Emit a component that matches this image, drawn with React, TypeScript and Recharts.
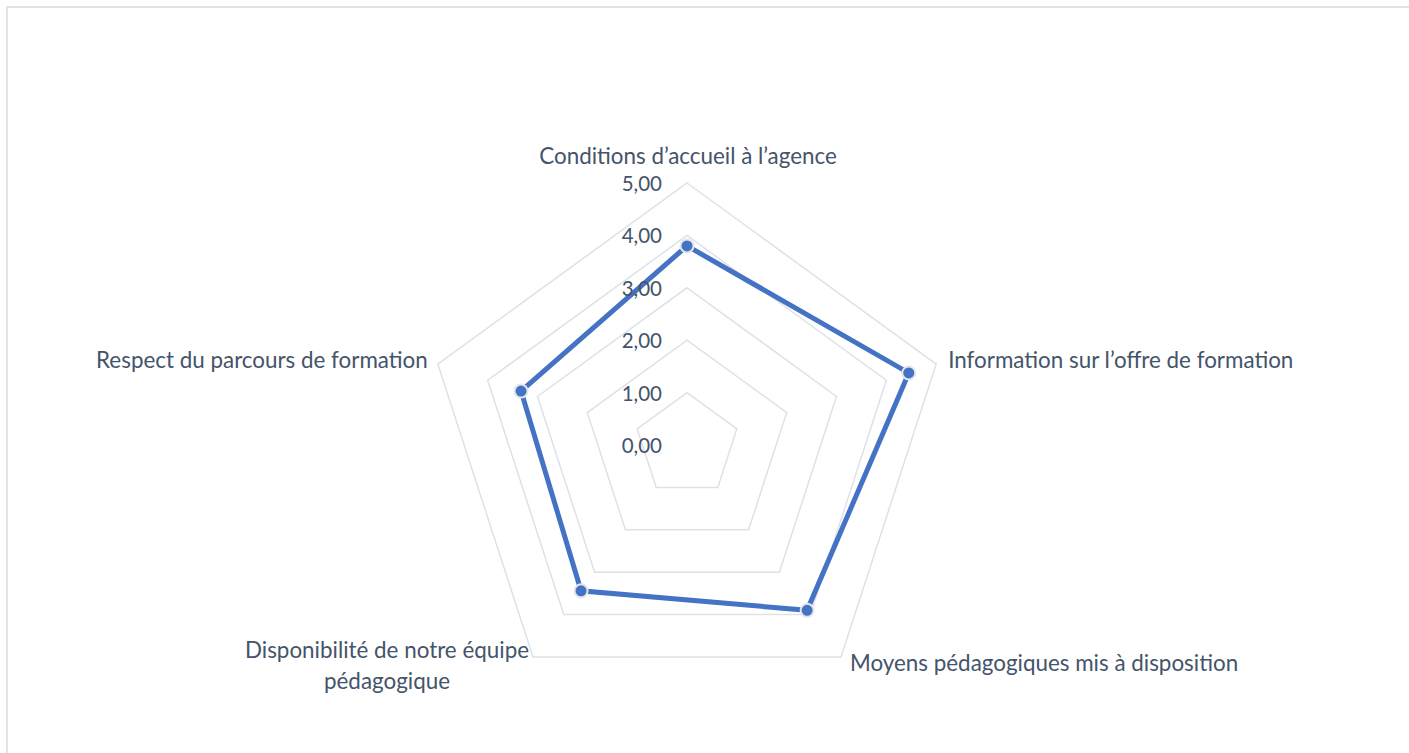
import { RadarChart, Radar, PolarGrid, PolarAngleAxis, PolarRadiusAxis } from 'recharts';

const criteres = [
  'Conditions d’accueil à l’agence',
  'Information sur l’offre de formation',
  'Moyens pédagogiques mis à disposition',
  'Disponibilité de notre équipe pédagogique',
  'Respect du parcours de formation',
];
const notes = [3.8, 4.45, 3.9, 3.44, 3.33];
const graduations = [0, 1, 2, 3, 4, 5];

const data = criteres.map((name, i) => ({ name, note: notes[i] }));

const CX = 687;
const CY = 445;
const R = 262;
const TEXT = '#44546a';
const FONT = 'Lato, "Open Sans", sans-serif';

const fmt = (v: number) => v.toFixed(2).replace('.', ',');

const AngleTick = ({ payload, index }: any) => {
  const a = (-payload.coordinate * Math.PI) / 180;
  const vx = CX + R * Math.cos(a);
  const vy = CY + R * Math.sin(a);
  const label: string = payload.value;
  const common = { fill: TEXT, fontSize: 22.4, fontFamily: FONT, dominantBaseline: 'central' as const };

  if (index === 0) {
    return <text x={vx + 1} y={vy - 28} textAnchor="middle" {...common}>{label}</text>;
  }
  if (index === 1) {
    return <text x={vx + 12} y={vy - 5} textAnchor="start" {...common}>{label}</text>;
  }
  if (index === 2) {
    return <text x={vx + 9} y={vy + 6} textAnchor="start" {...common}>{label}</text>;
  }
  if (index === 3) {
    const words = label.split(' ');
    const l1 = words.slice(0, -1).join(' ');
    const l2 = words[words.length - 1];
    return (
      <text x={vx - 146} y={vy - 8} textAnchor="middle" {...common}>
        <tspan x={vx - 146} dy={0}>{l1}</tspan>
        <tspan x={vx - 146} dy={31}>{l2}</tspan>
      </text>
    );
  }
  return <text x={vx - 10} y={vy - 5} textAnchor="end" {...common}>{label}</text>;
};

const RadiusTick = ({ x, y, payload }: any) => (
  <text x={x - 25} y={y} textAnchor="end" dominantBaseline="central" fill={TEXT} fontSize={20.5} fontFamily={FONT}>
    {fmt(payload.value)}
  </text>
);

export default function App() {
  return (
    <div style={{ position: 'fixed', left: 0, top: 0, width: 1409, height: 753, overflow: 'hidden', background: '#fff' }}>
      <div
        style={{
          position: 'absolute',
          left: 6,
          top: 6,
          width: 1420,
          height: 770,
          border: '2px solid #e1e5ea',
          boxSizing: 'border-box',
        }}
      />
      <div style={{ position: 'absolute', left: 0, top: 0 }}>
        <RadarChart
          width={1409}
          height={753}
          data={data}
          cx={CX}
          cy={CY}
          outerRadius={R}
          margin={{ top: 0, right: 0, bottom: 0, left: 0 }}
        >
          <PolarGrid gridType="polygon" radialLines={false} stroke="#dde2e8" strokeWidth={1.5} />
          <PolarAngleAxis dataKey="name" tick={AngleTick} tickLine={false} axisLine={false} />
          <PolarRadiusAxis
            angle={90}
            domain={[0, 5]}
            ticks={graduations}
            tickCount={6}
            axisLine={false}
            tick={RadiusTick}
          />
          <Radar
            dataKey="note"
            stroke="#4472c4"
            strokeWidth={5}
            fill="#4472c4"
            fillOpacity={0}
            dot={{ r: 6.5, fill: '#4472c4', stroke: '#e4e6ea', strokeWidth: 2, fillOpacity: 1 }}
            isAnimationActive={false}
          />
        </RadarChart>
      </div>
    </div>
  );
}
